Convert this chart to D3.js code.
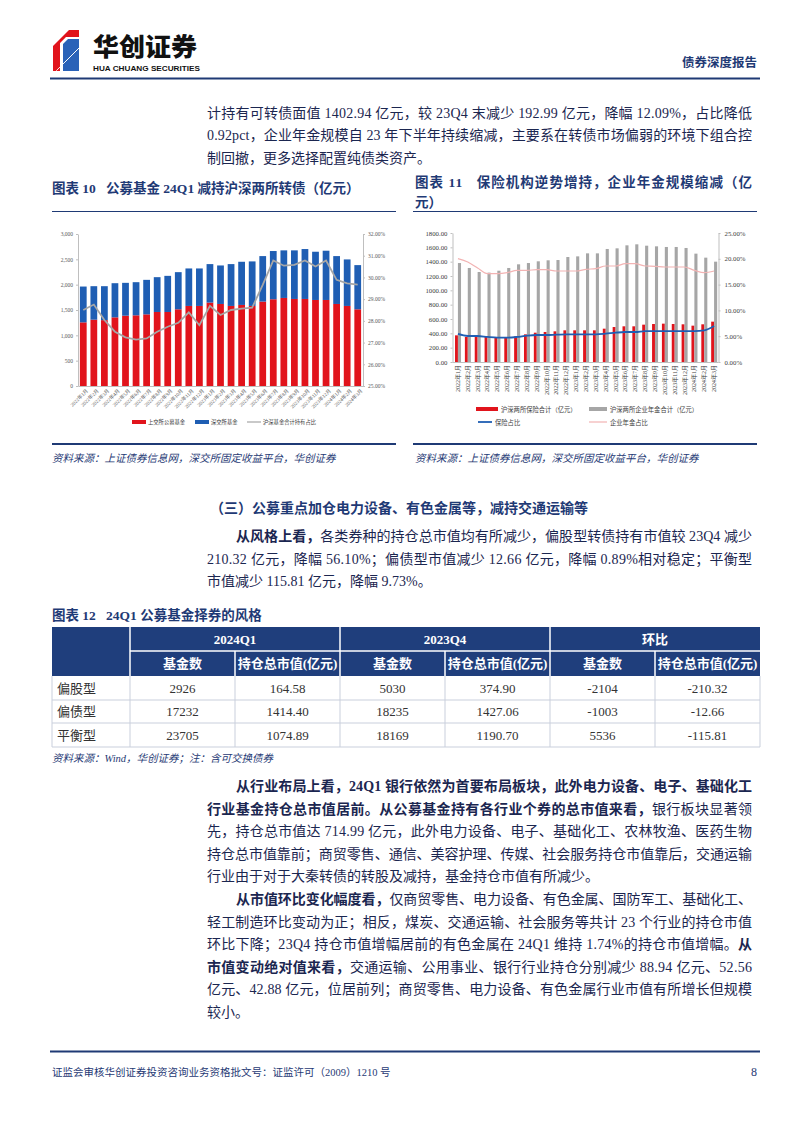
<!DOCTYPE html>
<html><head><meta charset="utf-8">
<script src="https://cdn.jsdelivr.net/npm/d3@7"></script>
<style>
html,body{margin:0;padding:0;background:#fff;}
svg{display:block;}
text{white-space:pre;}
</style></head><body>
<svg id="page" width="802" height="1133"></svg>
<script>
// ---------------- DATA ----------------
const months = ["2022年1月","2022年2月","2022年3月","2022年4月","2022年5月","2022年6月","2022年7月","2022年8月","2022年9月","2022年10月","2022年11月","2022年12月","2023年1月","2023年2月","2023年3月","2023年4月","2023年5月","2023年6月","2023年7月","2023年8月","2023年9月","2023年10月","2023年11月","2023年12月","2024年1月","2024年2月","2024年3月"];
// Chart 10 (亿元, %)
const shFund = [1256,1309,1300,1355,1388,1395,1414,1461,1461,1514,1580,1580,1646,1619,1580,1600,1580,1666,1712,1738,1718,1718,1698,1698,1619,1580,1514];
const szFund = [707,661,670,674,648,654,681,687,713,733,740,740,760,760,826,852,879,898,952,939,959,985,952,972,945,918,872];
const fundShare = [28.5,28.75,28.04,27.5,27.24,27.14,27.19,27.5,27.73,27.91,28.39,27.8,28.69,28.27,28.5,28.56,28.61,29.66,30.78,30.54,30.58,30.78,30.5,30.78,29.89,29.73,29.67];
const leftTicks10 = [0,500,1000,1500,2000,2500,3000];
const rightTicks10 = [25,26,27,28,29,30,31,32];
// Chart 11
const insurance = [372,349,360,358,340,340,358,386,409,419,428,442,442,442,442,465,488,498,498,521,530,535,530,526,507,526,563];
const pension = [1381,1312,1256,1247,1274,1312,1363,1381,1405,1419,1423,1465,1474,1516,1516,1577,1586,1628,1642,1623,1614,1605,1605,1591,1512,1456,1400];
const insShare = [5.43,5.04,5.04,4.85,4.72,4.72,4.85,5.1,5.23,5.23,5.3,5.36,5.36,5.36,5.36,5.49,5.68,5.81,5.81,6.0,6.0,6.0,6.0,6.0,6.0,6.14,6.98];
const penShare = [20.03,19.38,18.22,17.12,17.12,17.31,17.77,17.77,17.89,17.89,17.64,17.64,17.64,17.96,18.09,18.6,18.6,19.06,19.06,18.6,18.54,18.41,18.41,18.41,17.77,17.31,17.64];
const leftTicks11 = [0,200,400,600,800,1000,1200,1400,1600,1800];
const rightTicks11 = [0,5,10,15,20,25];
// Table 12
const tableStyles = ["偏股型","偏债型","平衡型"];
const fundCount24Q1 = [2926,17232,23705];
const mv24Q1 = [164.58,1414.40,1074.89];
const fundCount23Q4 = [5030,18235,18169];
const mv23Q4 = [374.90,1427.06,1190.70];
const fundCountChg = [-2104,-1003,5536];
const mvChg = [-210.32,-12.66,-115.81];

// ---------------- STYLE ----------------
const FONT = "'Liberation Serif','Noto Sans CJK SC',serif";
const SANS = "'Liberation Sans','Noto Sans CJK SC',sans-serif";
const NAVY = "#1f3a75";
const TXT = "#1b2650";
const RED = "#e1141c";
const BLUE = "#1f5eb3";
const GREY = "#a6a6a6";

const svg = d3.select("#page");
svg.append("rect").attr("width",802).attr("height",1133).attr("fill","#fff");

function richText(g, x, y, str, o) {
  const t = g.append("text").attr("x", x).attr("y", y)
    .attr("font-family", o.family || FONT).attr("font-size", o.fs)
    .attr("fill", o.fill || TXT);
  if (o.width) t.attr("textLength", o.width).attr("lengthAdjust", "spacing");
  if (o.italic) t.attr("font-style", "italic");
  if (o.anchor) t.attr("text-anchor", o.anchor);
  str.split("**").forEach((s, i) => {
    if (!s) return;
    t.append("tspan").attr("font-weight", (i % 2 === 1 || o.bold) ? 700 : 400).text(s);
  });
  return t;
}
function paragraph(lines, x0, right, y0, lh, fs) {
  lines.forEach((ln, i) => {
    const x = ln.x || x0;
    richText(svg, x, y0 + i * lh, ln.t, {fs: fs, width: ln.j ? right - x : null});
  });
}

// ---------------- HEADER ----------------
const hdr = svg.append("g");
hdr.append("polygon").attr("points","53,46 69,30 79,30 79,37 66,37 60,43 60,71 53,71").attr("fill", RED);
hdr.append("polygon").attr("points","63,44 68,39 79,39 79,71 63,71").attr("fill", "#2a62b8");
for (let k = 0; k < 6; k++) {
  hdr.append("line").attr("x1", 53 + k*4).attr("y1", 50 - k*4 + 24).attr("x2", 53 + k*4 + 26).attr("y2", 50 - k*4 - 2)
    .attr("stroke","#fff").attr("stroke-width",0.8).attr("opacity",0.8);
}
hdr.append("text").attr("x",93).attr("y",56).attr("font-family","'Noto Sans CJK SC',sans-serif").attr("font-weight",900)
  .attr("font-size",25).attr("fill","#111").attr("textLength",104).attr("lengthAdjust","spacingAndGlyphs").text("华创证券");
hdr.append("text").attr("x",93).attr("y",71).attr("font-family",SANS).attr("font-weight",700)
  .attr("font-size",7.5).attr("fill","#111").attr("textLength",107).attr("lengthAdjust","spacingAndGlyphs").text("HUA CHUANG SECURITIES");
richText(hdr, 757, 67, "债券深度报告", {fs: 12.5, bold: true, fill: NAVY, anchor: "end"});
hdr.append("line").attr("x1",50).attr("x2",760).attr("y1",78.5).attr("y2",78.5).attr("stroke",NAVY).attr("stroke-width",2);

// ---------------- BODY TEXT ----------------
paragraph([
  {t:"计持有可转债面值 1402.94 亿元，较 23Q4 末减少 192.99 亿元，降幅 12.09%，占比降低", j:true},
  {t:"0.92pct，企业年金规模自 23 年下半年持续缩减，主要系在转债市场偏弱的环境下组合控", j:true},
  {t:"制回撤，更多选择配置纯债类资产。"}
], 207, 752, 118, 22.3, 14);

// chart titles
richText(svg, 52, 193, "图表 10   公募基金 24Q1 减持沪深两所转债（亿元）", {fs: 13.5, bold: true, fill: NAVY});
richText(svg, 415, 187, "图表 11   保险机构逆势增持，企业年金规模缩减（亿", {fs: 13.5, bold: true, fill: NAVY, width: 337});
richText(svg, 415, 207, "元）", {fs: 13.5, bold: true, fill: NAVY});
[[52,396],[413,757]].forEach(([a,b]) => {
  svg.append("line").attr("x1",a).attr("x2",b).attr("y1",211.5).attr("y2",211.5).attr("stroke",NAVY).attr("stroke-width",1);
  svg.append("line").attr("x1",a).attr("x2",b).attr("y1",444).attr("y2",444).attr("stroke",NAVY).attr("stroke-width",2);
});
richText(svg, 52, 462, "资料来源：上证债券信息网，深交所固定收益平台，华创证券", {fs: 10.5, italic: true, fill: NAVY});
richText(svg, 415, 462, "资料来源：上证债券信息网，深交所固定收益平台，华创证券", {fs: 10.5, italic: true, fill: NAVY});

// ---------------- CHART 10 ----------------
(function(){
  const g = svg.append("g");
  const x = d3.scaleBand().domain(months).range([78,363]).paddingInner(0.36).paddingOuter(0.18);
  const y = d3.scaleLinear().domain([0,3000]).range([386,234]);
  const yr = d3.scaleLinear().domain([25,32]).range([386,234]);
  g.selectAll(".sh").data(months).join("rect")
    .attr("x", d => x(d)).attr("width", x.bandwidth())
    .attr("y", (d,i) => y(shFund[i])).attr("height", (d,i) => y(0) - y(shFund[i])).attr("fill", RED);
  g.selectAll(".sz").data(months).join("rect")
    .attr("x", d => x(d)).attr("width", x.bandwidth())
    .attr("y", (d,i) => y(shFund[i] + szFund[i])).attr("height", (d,i) => y(shFund[i]) - y(shFund[i] + szFund[i])).attr("fill", BLUE);
  const line = d3.line().x((d,i) => x(months[i]) + x.bandwidth()/2).y(d => yr(d));
  g.append("path").attr("d", line(fundShare)).attr("fill","none").attr("stroke",GREY).attr("stroke-width",1.8);

  const style = sel => {
    sel.selectAll(".domain").attr("stroke","#bfbfbf");
    sel.selectAll(".tick line").attr("stroke","#bfbfbf");
    sel.selectAll("text").attr("fill","#595959").attr("font-family",FONT).attr("font-size",5.5);
  };
  g.append("g").attr("transform","translate(78,0)")
    .call(d3.axisLeft(y).tickValues(leftTicks10).tickSize(2).tickSizeOuter(0).tickPadding(3)).call(style);
  g.append("g").attr("transform","translate(363,0)")
    .call(d3.axisRight(yr).tickValues(rightTicks10).tickSize(2).tickSizeOuter(0).tickPadding(3).tickFormat(d => d.toFixed(2) + "%")).call(style);
  const bx = g.append("g").attr("transform","translate(0,386)")
    .call(d3.axisBottom(x).tickSize(0).tickSizeOuter(0)).call(style);
  bx.selectAll("text").attr("text-anchor","end").attr("dy",0)
    .attr("transform","translate(3,3) rotate(-45)").attr("font-size",5);

  const lg = g.append("g").attr("font-family",FONT).attr("font-size",5.3).attr("fill","#404040");
  lg.append("rect").attr("x",132).attr("y",420).attr("width",14).attr("height",4).attr("fill",RED);
  lg.append("text").attr("x",148).attr("y",424).text("上交所公募基金");
  lg.append("rect").attr("x",195).attr("y",420).attr("width",14).attr("height",4).attr("fill",BLUE);
  lg.append("text").attr("x",211).attr("y",424).text("深交所基金");
  lg.append("line").attr("x1",247).attr("x2",261).attr("y1",422).attr("y2",422).attr("stroke",GREY).attr("stroke-width",1.2);
  lg.append("text").attr("x",263).attr("y",424).text("沪深基金合计持有占比");
})();

// ---------------- CHART 11 ----------------
(function(){
  const g = svg.append("g");
  const x = d3.scaleBand().domain(months).range([453,719]).padding(0);
  const y = d3.scaleLinear().domain([0,1800]).range([362,233]);
  const yr = d3.scaleLinear().domain([0,25]).range([362,233]);
  const c = d => x(d) + x.bandwidth()/2;
  g.selectAll(".ins").data(months).join("rect")
    .attr("x", d => c(d) - 2.9).attr("width", 2.9)
    .attr("y", (d,i) => y(insurance[i])).attr("height", (d,i) => y(0) - y(insurance[i])).attr("fill", RED);
  g.selectAll(".pen").data(months).join("rect")
    .attr("x", d => c(d)).attr("width", 3.1)
    .attr("y", (d,i) => y(pension[i])).attr("height", (d,i) => y(0) - y(pension[i])).attr("fill", GREY);
  const line = d3.line().x((d,i) => c(months[i])).y(d => yr(d)).curve(d3.curveMonotoneX);
  g.append("path").attr("d", line(penShare)).attr("fill","none").attr("stroke","#f2b3b3").attr("stroke-width",1.2);
  g.append("path").attr("d", line(insShare)).attr("fill","none").attr("stroke","#1f5eb3").attr("stroke-width",1.8);

  const style = sel => {
    sel.selectAll(".domain").attr("stroke","#bfbfbf");
    sel.selectAll(".tick line").attr("stroke","#bfbfbf");
    sel.selectAll("text").attr("fill","#404040").attr("font-family",FONT).attr("font-size",6.8);
  };
  g.append("g").attr("transform","translate(452.5,0)")
    .call(d3.axisLeft(y).tickValues(leftTicks11).tickSize(2).tickSizeOuter(0).tickPadding(3).tickFormat(d => d.toFixed(2))).call(style);
  g.append("g").attr("transform","translate(718.5,0)")
    .call(d3.axisRight(yr).tickValues(rightTicks11).tickSize(2).tickSizeOuter(0).tickPadding(4).tickFormat(d => d.toFixed(2) + "%")).call(style);
  g.append("line").attr("x1",452.5).attr("x2",718.5).attr("y1",362.5).attr("y2",362.5).attr("stroke","#bfbfbf");
  g.selectAll(".xl").data(months).join("text")
    .attr("transform", d => `translate(${c(d) + 2},365) rotate(-90)`)
    .attr("text-anchor","end").attr("font-family",FONT).attr("font-size",6).attr("fill","#404040").text(d => d);

  const lg = g.append("g").attr("font-family",FONT).attr("font-size",6.3).attr("fill","#404040");
  lg.append("rect").attr("x",476).attr("y",407).attr("width",22).attr("height",4).attr("fill",RED);
  lg.append("text").attr("x",501).attr("y",411.5).text("沪深两所保险合计（亿元）");
  lg.append("rect").attr("x",589).attr("y",407).attr("width",18).attr("height",4).attr("fill",GREY);
  lg.append("text").attr("x",610).attr("y",411.5).text("沪深两所企业年金合计（亿元）");
  lg.append("line").attr("x1",478).attr("x2",492).attr("y1",422).attr("y2",422).attr("stroke","#1f5eb3").attr("stroke-width",1.8);
  lg.append("text").attr("x",495).attr("y",424.5).text("保险占比");
  lg.append("line").attr("x1",589).attr("x2",607).attr("y1",422).attr("y2",422).attr("stroke","#f2b3b3").attr("stroke-width",1.2);
  lg.append("text").attr("x",610).attr("y",424.5).text("企业年金占比");
})();

// ---------------- SECTION ----------------
richText(svg, 210, 513, "（三）公募重点加仓电力设备、有色金属等，减持交通运输等", {fs: 14, bold: true, fill: NAVY});
paragraph([
  {x:236, t:"**从风格上看，**各类券种的持仓总市值均有所减少，偏股型转债持有市值较 23Q4 减少", j:true},
  {t:"210.32 亿元，降幅 56.10%；偏债型市值减少 12.66 亿元，降幅 0.89%相对稳定；平衡型", j:true},
  {t:"市值减少 115.81 亿元，降幅 9.73%。"}
], 207, 752, 541, 22.5, 14);

// ---------------- TABLE 12 ----------------
richText(svg, 52, 620, "图表 12   24Q1 公募基金择券的风格", {fs: 13.5, bold: true, fill: NAVY});
(function(){
  const g = svg.append("g");
  const colX = [52,130,235,340,445,550,655,760];
  const rowY = [627,651,676,700,723,747];
  const HB = "#1f3e7c";
  g.append("rect").attr("x",52).attr("y",627).attr("width",708).attr("height",49).attr("fill",HB);
  [130,340,550].forEach(xv => g.append("line").attr("x1",xv).attr("x2",xv).attr("y1",627).attr("y2",676).attr("stroke","#fff").attr("stroke-width",1.5));
  [235,445,655].forEach(xv => g.append("line").attr("x1",xv).attr("x2",xv).attr("y1",651).attr("y2",676).attr("stroke","#fff").attr("stroke-width",1.5));
  g.append("line").attr("x1",130).attr("x2",760).attr("y1",651).attr("y2",651).attr("stroke","#fff").attr("stroke-width",1.5);
  const groups = ["2024Q1","2023Q4","环比"];
  groups.forEach((t,i) => richText(g, (colX[1+2*i] + colX[3+2*i]) / 2, 644, t, {fs: 13, bold: true, fill: "#fff", anchor: "middle"}));
  const subs = ["基金数","持仓总市值(亿元)"];
  for (let k = 0; k < 6; k++) richText(g, (colX[1+k] + colX[2+k]) / 2, 668, subs[k % 2], {fs: 13, bold: true, fill: "#fff", anchor: "middle"});
  const cols = [fundCount24Q1, mv24Q1.map(v => v.toFixed(2)), fundCount23Q4, mv23Q4.map(v => v.toFixed(2)), fundCountChg, mvChg.map(v => v.toFixed(2))];
  tableStyles.forEach((s, r) => {
    const yb = rowY[2 + r], ye = rowY[3 + r];
    const ty = (yb + ye) / 2 + 4.5;
    richText(g, 57, ty, s, {fs: 13, fill: "#333"});
    cols.forEach((col, k) => richText(g, (colX[1+k] + colX[2+k]) / 2, ty, String(col[r]), {fs: 13, fill: "#333", anchor: "middle"}));
    g.append("line").attr("x1",52).attr("x2",760).attr("y1",ye).attr("y2",ye).attr("stroke","#c9cfdc").attr("stroke-width",1);
  });
  colX.forEach(xv => g.append("line").attr("x1",xv).attr("x2",xv).attr("y1",676).attr("y2",747).attr("stroke","#c9cfdc").attr("stroke-width",1));
})();
richText(svg, 52, 762, "资料来源：Wind，华创证券；注：含可交换债券", {fs: 10.5, italic: true, fill: NAVY});

// ---------------- PARAGRAPHS ----------------
paragraph([
  {x:236, t:"**从行业布局上看，24Q1 银行依然为首要布局板块，此外电力设备、电子、基础化工**", j:true},
  {t:"**行业基金持仓总市值居前。从公募基金持有各行业个券的总市值来看，**银行板块显著领", j:true},
  {t:"先，持仓总市值达 714.99 亿元，此外电力设备、电子、基础化工、农林牧渔、医药生物", j:true},
  {t:"持仓总市值靠前；商贸零售、通信、美容护理、传媒、社会服务持仓市值靠后，交通运输", j:true},
  {t:"行业由于对于大秦转债的转股及减持，基金持仓市值有所减少。"}
], 207, 752, 791, 22.5, 14);
paragraph([
  {x:236, t:"**从市值环比变化幅度看，**仅商贸零售、电力设备、有色金属、国防军工、基础化工、", j:true},
  {t:"轻工制造环比变动为正；相反，煤炭、交通运输、社会服务等共计 23 个行业的持仓市值", j:true},
  {t:"环比下降；23Q4 持仓市值增幅居前的有色金属在 24Q1 维持 1.74%的持仓市值增幅。**从**", j:true},
  {t:"**市值变动绝对值来看，**交通运输、公用事业、银行行业持仓分别减少 88.94 亿元、52.56", j:true},
  {t:"亿元、42.88 亿元，位居前列；商贸零售、电力设备、有色金属行业市值有所增长但规模", j:true},
  {t:"较小。"}
], 207, 752, 904, 22.5, 14);

// ---------------- FOOTER ----------------
svg.append("line").attr("x1",50).attr("x2",760).attr("y1",1051.5).attr("y2",1051.5).attr("stroke",NAVY).attr("stroke-width",2);
richText(svg, 52, 1076, "证监会审核华创证券投资咨询业务资格批文号：证监许可（2009）1210 号", {fs: 10.5, fill: NAVY});
richText(svg, 757, 1076, "8", {fs: 12, fill: NAVY, anchor: "end"});
</script>
</body></html>
